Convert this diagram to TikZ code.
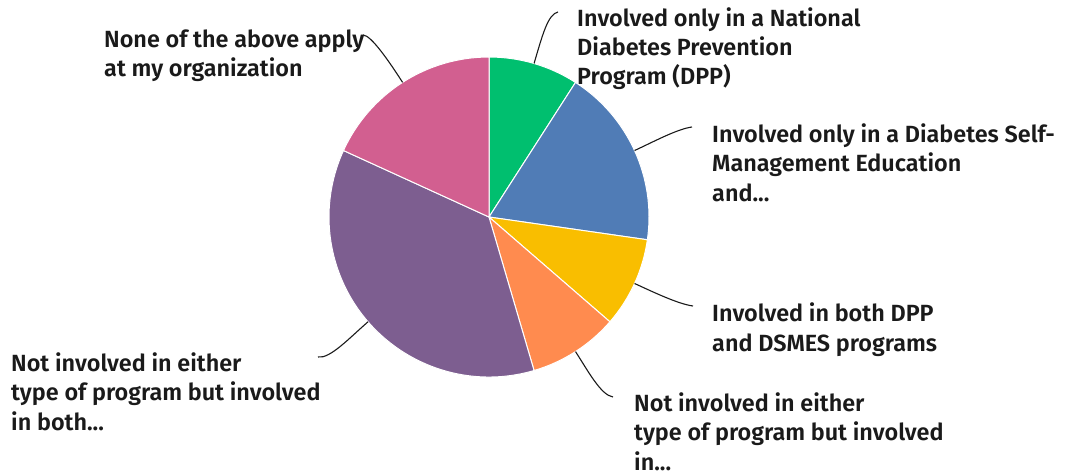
\documentclass[tikz,border=0pt]{standalone}
\usepackage{fontspec}
\setmainfont{Fira Sans SemiBold}
\usetikzlibrary{calc}
\definecolor{cgreen}{HTML}{00BF6F}
\definecolor{cblue}{HTML}{507CB6}
\definecolor{cyellow}{HTML}{F9BE00}
\definecolor{corange}{HTML}{FF8B4F}
\definecolor{cpurple}{HTML}{7D5E90}
\definecolor{cpink}{HTML}{D25F90}
\definecolor{ctext}{HTML}{1A1A1A}
\tikzset{
  slice/.style={draw=white, line width=1pt},
  lab/.style={anchor=base west, align=left, inner sep=0pt, text=ctext,
    font=\fontsize{23.4}{29.2}\selectfont},
  leader/.style={draw=ctext, line width=1.1pt}
}
\begin{document}
\begin{tikzpicture}[x=1pt,y=1pt]
\useasboundingbox (0,0) rectangle (1065,475);
\coordinate (c) at (489,258);
\def\R{160}
\fill[cgreen,slice] (c) -- ++(90:\R) arc[start angle=90,end angle=57.27,radius=\R] -- cycle;
\fill[cblue,slice] (c) -- ++(57.27:\R) arc[start angle=57.27,end angle=-8.18,radius=\R] -- cycle;
\fill[cyellow,slice] (c) -- ++(-8.18:\R) arc[start angle=-8.18,end angle=-40.91,radius=\R] -- cycle;
\fill[corange,slice] (c) -- ++(-40.91:\R) arc[start angle=-40.91,end angle=-73.64,radius=\R] -- cycle;
\fill[cpurple,slice] (c) -- ++(-73.64:\R) arc[start angle=-73.64,end angle=-204.55,radius=\R] -- cycle;
\fill[cpink,slice] (c) -- ++(-204.55:\R) arc[start angle=-204.55,end angle=-270,radius=\R] -- cycle;

% leader start points
\coordinate (sg) at ($(c)+(73.64:\R)$);
\coordinate (sb) at ($(c)+(24.55:\R)$);
\coordinate (sy) at ($(c)+(-24.55:\R)$);
\coordinate (so) at ($(c)+(-57.27:\R)$);
\coordinate (sp) at ($(c)+(-139.1:\R)$);
\coordinate (sk) at ($(c)+(122.7:\R)$);
% leader end points
\coordinate (eg) at (558,463);
\coordinate (eb) at (692,348);
\coordinate (ey) at (693,169);
\coordinate (eo) at (613,78);
\coordinate (ep) at (318,118);
\coordinate (ek) at (363,440);

\draw[leader] (sg) .. controls ($(sg)+(73.64:30)$) and ($(eg)+(-10,-2)$) .. (eg);
\draw[leader] (sb) .. controls ($(sb)+(24.55:20)$) and ($(eb)+(-15,-2)$) .. (eb);
\draw[leader] (sy) .. controls ($(sy)+(-24.55:20)$) and ($(ey)+(-15,2)$) .. (ey);
\draw[leader] (so) .. controls ($(so)+(-57.27:25)$) and ($(eo)+(-12,2)$) .. (eo);
\draw[leader] (sp) .. controls ($(sp)+(-139.1:25)$) and ($(ep)+(12,-2)$) .. (ep);
\draw[leader] (sk) .. controls ($(sk)+(122.7:25)$) and ($(ek)+(8,0)$) .. (ek);

% anchors are at the baseline of the last line
\node[lab] (lg) at (577,390) {Involved only in a National\\Diabetes Prevention\\Program (DPP)};
\node[lab] (lb) at (712,274) {Involved only in a Diabetes Self-\\Management Education\\and...};
\node[lab] (ly) at (712,124) {Involved in both DPP\\and DSMES programs};
\node[lab] (lo) at (634,5) {Not involved in either\\type of program but involved\\in...};
\node[lab] (lp) at (11,45) {Not involved in either\\type of program but involved\\in both...};
\node[lab] (lk) at (104,398) {None of the above apply\\at my organization};
\end{tikzpicture}
\end{document}
